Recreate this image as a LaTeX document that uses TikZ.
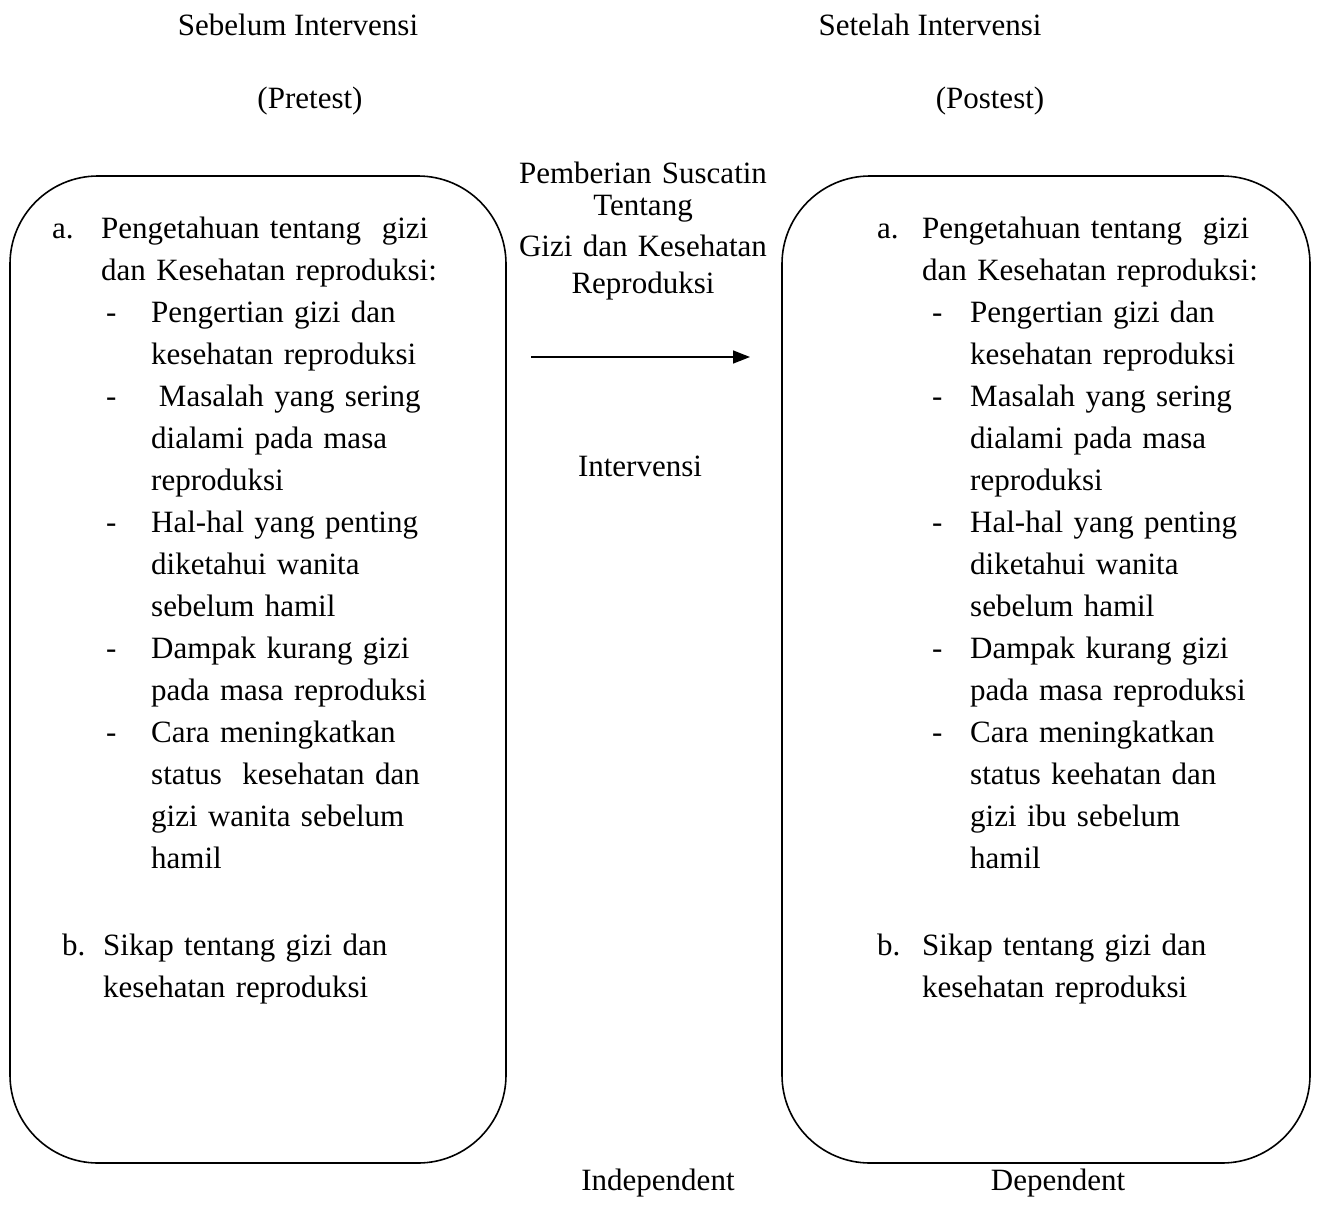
\documentclass[tikz,border=0pt]{standalone}
\usepackage{fontspec}
\setmainfont{Liberation Serif}
\usetikzlibrary{arrows.meta}
\newcommand{\bodyfont}{\fontsize{31}{42}\selectfont}
\tikzset{
  item/.style={anchor=base west, inner sep=0pt, font=\bodyfont, text width=400pt, align=left},
  bullet/.style={anchor=base west, inner sep=0pt, font=\bodyfont},
  head/.style={anchor=base, inner sep=0pt, font=\bodyfont},
  frame/.style={draw, line width=1.6pt, rounded corners=88pt},
  flow/.style={line width=1.6pt, -{Triangle[length=17pt,width=13pt]}},
}
\begin{document}
\begin{tikzpicture}[x=1pt,y=-1pt]
  \useasboundingbox (0,0) rectangle (1318,1219);
  % headings
  \node[head] (pre1) at (298,35) {Sebelum Intervensi};
  \node[head] (pre2) at (310,108) {(Pretest)};
  \node[head] (post1) at (930,35) {Setelah Intervensi};
  \node[head] (post2) at (990,108) {(Postest)};
  % the two groups
  \node[frame, minimum width=496pt, minimum height=987pt] (pre) at (258,669.5) {};
  \node[frame, minimum width=528pt, minimum height=987pt] (post) at (1046,669.5) {};
  % treatment
  \node[head, text width=300pt, align=center] (treat) at (643,183)
    {Pemberian Suscatin\\[-10pt]Tentang\\[-1pt]Gizi dan Kesehatan\\[-5pt]Reproduksi};
  \coordinate (from) at (531,357);
  \coordinate (to) at (750,357);
  \draw[flow] (from) -- (to);
  \node[head] (interv) at (640,476) {Intervensi};
  \node[head] (indep) at (658,1190) {Independent};
  \node[head] (dep) at (1058,1190) {Dependent};
  % pretest list
  \node[bullet] (la) at (52,238) {a.};
  \node[item] (la0) at (101,238) {Pengetahuan tentang~ gizi\\dan Kesehatan reproduksi:};
  \node[bullet] (ld1) at (106,322) {-};
  \node[item] (la1) at (151,322) {Pengertian gizi dan\\kesehatan reproduksi};
  \node[bullet] (ld2) at (106,406) {-};
  \node[item] (la2) at (151,406) {\hspace*{0.25em}Masalah yang sering\\dialami pada masa\\reproduksi};
  \node[bullet] (ld3) at (106,532) {-};
  \node[item] (la3) at (151,532) {Hal-hal yang penting\\diketahui wanita\\sebelum hamil};
  \node[bullet] (ld4) at (106,658) {-};
  \node[item] (la4) at (151,658) {Dampak kurang gizi\\pada masa reproduksi};
  \node[bullet] (ld5) at (106,742) {-};
  \node[item] (la5) at (151,742) {Cara meningkatkan\\status~ kesehatan dan\\gizi wanita sebelum\\hamil};
  \node[bullet] (lb) at (62,955) {b.};
  \node[item] (lb0) at (103,955) {Sikap tentang gizi dan\\kesehatan reproduksi};
  % posttest list
  \node[bullet] (ra) at (877,238) {a.};
  \node[item] (ra0) at (922,238) {Pengetahuan tentang~ gizi\\dan Kesehatan reproduksi:};
  \node[bullet] (rd1) at (932,322) {-};
  \node[item] (ra1) at (970,322) {Pengertian gizi dan\\kesehatan reproduksi};
  \node[bullet] (rd2) at (932,406) {-};
  \node[item] (ra2) at (970,406) {Masalah yang sering\\dialami pada masa\\reproduksi};
  \node[bullet] (rd3) at (932,532) {-};
  \node[item] (ra3) at (970,532) {Hal-hal yang penting\\diketahui wanita\\sebelum hamil};
  \node[bullet] (rd4) at (932,658) {-};
  \node[item] (ra4) at (970,658) {Dampak kurang gizi\\pada masa reproduksi};
  \node[bullet] (rd5) at (932,742) {-};
  \node[item] (ra5) at (970,742) {Cara meningkatkan\\status keehatan dan\\gizi ibu sebelum\\hamil};
  \node[bullet] (rb) at (877,955) {b.};
  \node[item] (rb0) at (922,955) {Sikap tentang gizi dan\\kesehatan reproduksi};
\end{tikzpicture}
\end{document}
